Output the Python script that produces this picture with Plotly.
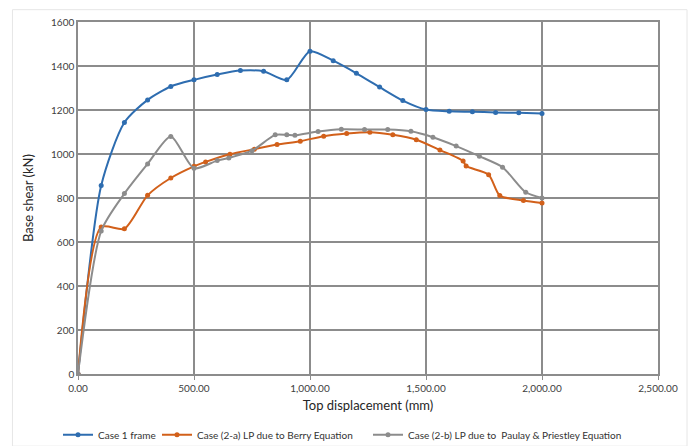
import plotly.graph_objects as go

# Case 1 frame
x_case1 = [0, 100, 200, 300, 400, 500, 600, 700, 800, 900, 1000, 1100, 1200, 1300, 1400, 1500, 1600, 1700, 1800, 1900, 2000]
y_case1 = [0, 857, 1143, 1246, 1307, 1337, 1361, 1379, 1376, 1337, 1467, 1424, 1367, 1304, 1243, 1202, 1194, 1192, 1189, 1187, 1184]

# Case (2-a) LP due to Berry Equation
x_case2a = [0, 100, 200, 300, 400, 500, 550, 655, 760, 858, 958, 1059, 1158, 1258, 1357, 1458, 1560, 1660, 1673, 1770, 1818, 1920, 2000]
y_case2a = [0, 668, 660, 812, 891, 944, 964, 999, 1022, 1043, 1058, 1081, 1093, 1099, 1087, 1065, 1018, 968, 945, 906, 811, 789, 777]

# Case (2-b) LP due to Paulay & Priestley Equation
x_case2b = [0, 100, 200, 300, 400, 500, 600, 650, 750, 850, 900, 935, 1035, 1135, 1235, 1335, 1435, 1530, 1630, 1730, 1830, 1930, 2000]
y_case2b = [0, 650, 820, 955, 1080, 935, 970, 982, 1015, 1087, 1087, 1085, 1102, 1112, 1111, 1111, 1103, 1076, 1036, 990, 940, 826, 800]

names = ["Case 1 frame", "Case (2-a) LP due to Berry Equation",
         "Case (2-b) LP due to  Paulay & Priestley Equation"]
colors = ["#2e6db0", "#d2601a", "#8c8c8c"]

FONT = "Lato, Open Sans, sans-serif"

fig = go.Figure()
series = [(x_case1, y_case1), (x_case2a, y_case2a), (x_case2b, y_case2b)]
legends = ["legend", "legend2", "legend3"]
for (xs, ys), nm, col, lg in zip(series, names, colors, legends):
    fig.add_trace(go.Scatter(
        x=xs, y=ys, name=nm, mode="lines+markers",
        line=dict(color=col, width=2, shape="spline", smoothing=0.7),
        marker=dict(color=col, size=5),
        legend=lg,
    ))

grid = "#8c8c8c"
leg_common = dict(orientation="h", yanchor="middle", yref="container", y=0.025,
                  xanchor="left", xref="container",
                  font=dict(family=FONT, size=10, color="#333333"),
                  bgcolor="rgba(0,0,0,0)", itemwidth=30)

fig.update_layout(
    width=692, height=446,
    margin=dict(l=78, r=34, t=22, b=72, autoexpand=False),
    paper_bgcolor="white", plot_bgcolor="white",
    font=dict(family=FONT, color="#404040"),
    showlegend=True,
    legend=dict(leg_common, x=58 / 692),
    legend2=dict(leg_common, x=157 / 692),
    legend3=dict(leg_common, x=368 / 692),
    xaxis=dict(
        range=[0, 2500], dtick=500, tick0=0, tickformat=",.2f",
        showgrid=True, gridcolor=grid, gridwidth=1.5,
        showline=True, linecolor=grid, linewidth=1.5, mirror=True,
        ticks="outside", ticklen=4, tickcolor=grid,
        zeroline=False, automargin=False,
        tickfont=dict(family=FONT, size=10, color="#404040"),
        title=dict(text="Top displacement (mm)", standoff=8,
                   font=dict(family=FONT, size=13, color="#262626")),
    ),
    yaxis=dict(
        range=[0, 1600], dtick=200, tick0=0,
        showgrid=True, gridcolor=grid, gridwidth=1.5,
        showline=True, linecolor=grid, linewidth=1.5, mirror=True,
        ticks="", zeroline=False, automargin=False,
        tickfont=dict(family=FONT, size=10, color="#404040"),
        title=dict(text="Base shear (kN)", standoff=14,
                   font=dict(family=FONT, size=13, color="#262626")),
    ),
    shapes=[dict(type="rect", xref="paper", yref="paper",
                 x0=-0.113, x1=1.05, y0=-0.205, y1=1.035,
                 line=dict(color="#e6e6e6", width=1), layer="below")],
)

fig.write_html("out.html")
